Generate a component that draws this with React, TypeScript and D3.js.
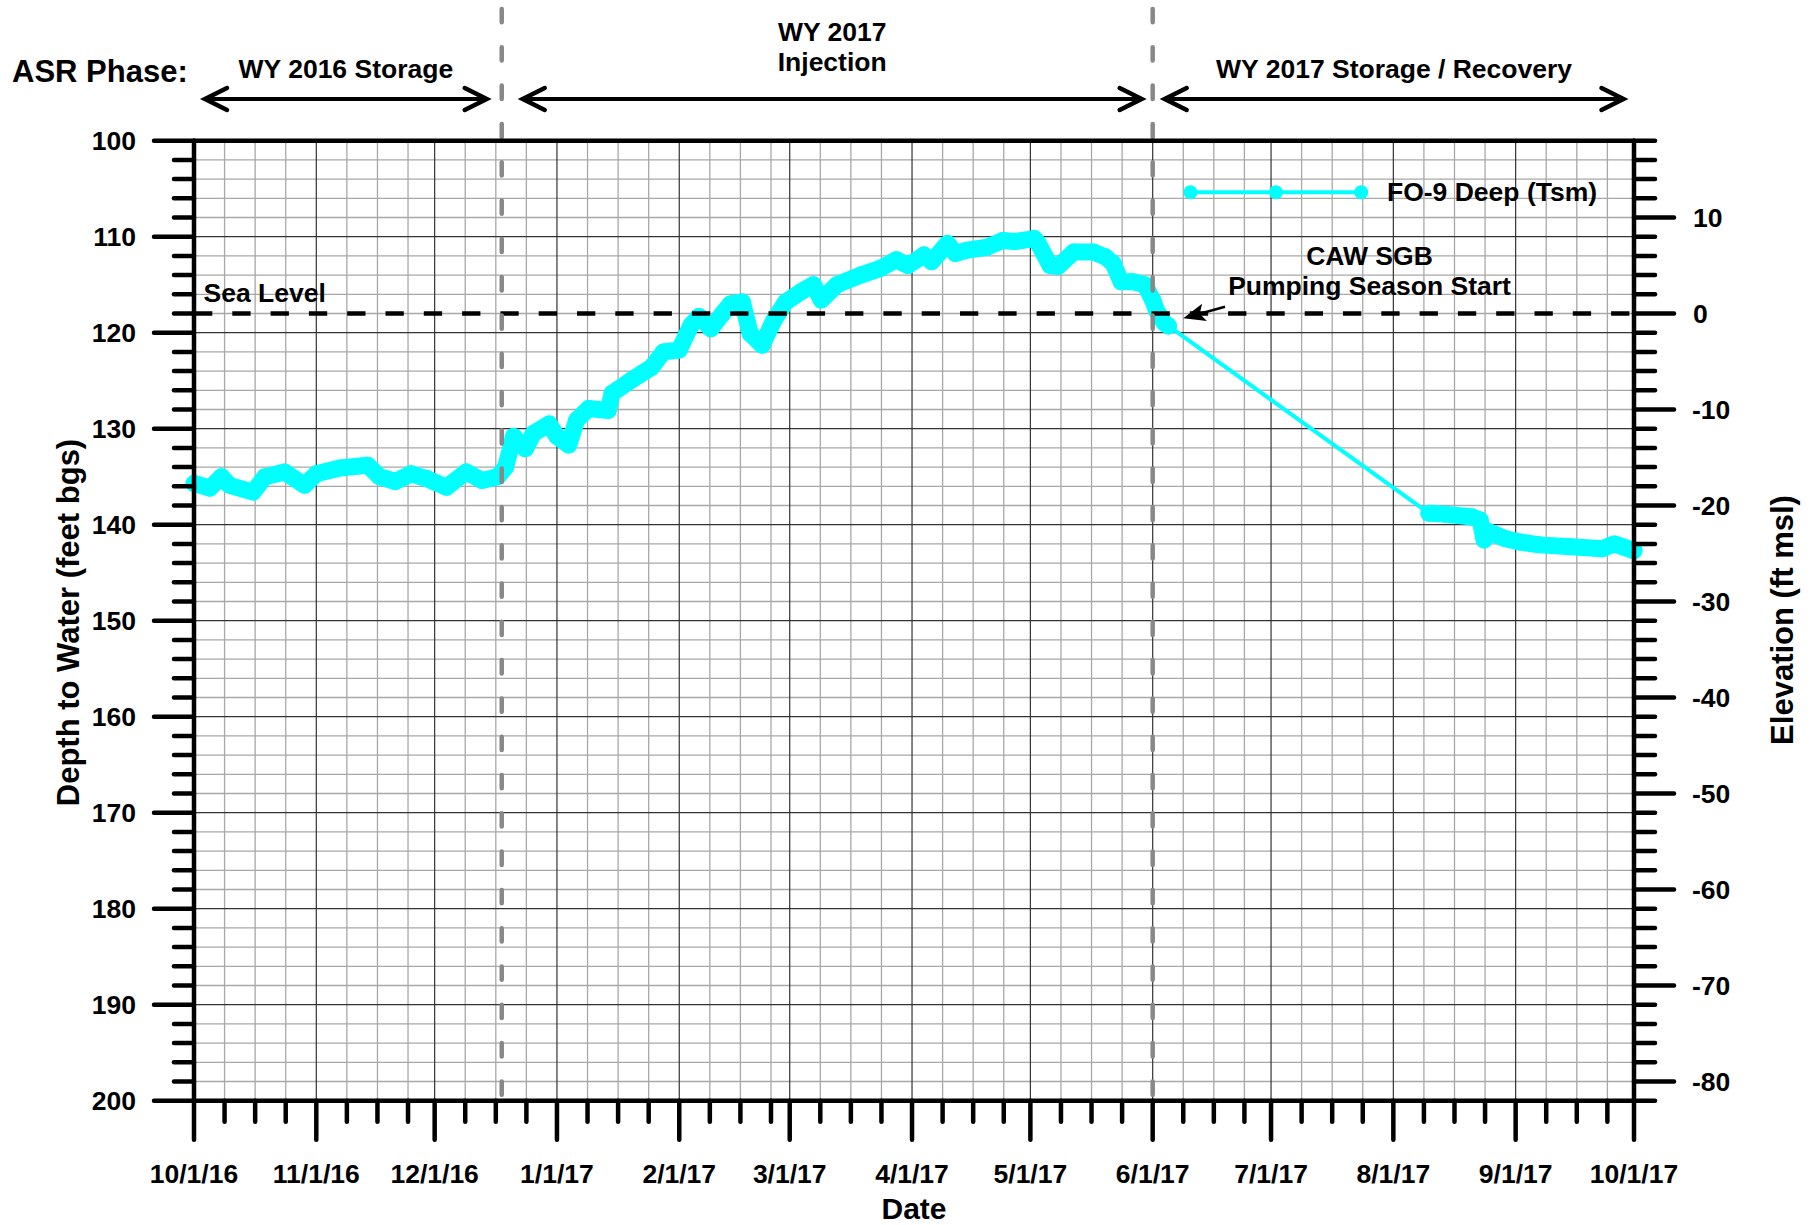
import React from "react";
import * as d3 from "d3";

// FO-9 Deep (Tsm) transducer record, depth to water in feet below ground surface
const obsDates: string[] = [
  "2016-10-01", "2016-10-05", "2016-10-08", "2016-10-10", "2016-10-16", "2016-10-19",
  "2016-10-24", "2016-10-29", "2016-11-01", "2016-11-07", "2016-11-14", "2016-11-17",
  "2016-11-21", "2016-11-25", "2016-11-29", "2016-12-04", "2016-12-09", "2016-12-13",
  "2016-12-17", "2016-12-19", "2016-12-21", "2016-12-24", "2016-12-26", "2016-12-30",
  "2017-01-01", "2017-01-04", "2017-01-06", "2017-01-09", "2017-01-14", "2017-01-15",
  "2017-01-20", "2017-01-25", "2017-01-28", "2017-02-01", "2017-02-04", "2017-02-06",
  "2017-02-09", "2017-02-12", "2017-02-14", "2017-02-17", "2017-02-19", "2017-02-22",
  "2017-02-25", "2017-02-28", "2017-03-04", "2017-03-07", "2017-03-09", "2017-03-13",
  "2017-03-19", "2017-03-24", "2017-03-28", "2017-03-31", "2017-04-04", "2017-04-06",
  "2017-04-10", "2017-04-12", "2017-04-15", "2017-04-20", "2017-04-24", "2017-04-27",
  "2017-05-02", "2017-05-03", "2017-05-06", "2017-05-08", "2017-05-12", "2017-05-17",
  "2017-05-20", "2017-05-22", "2017-05-24", "2017-05-27", "2017-05-30", "2017-06-01",
  "2017-06-02", "2017-06-04", "2017-06-05", "2017-08-10", "2017-08-14", "2017-08-21",
  "2017-08-23", "2017-08-24", "2017-08-25", "2017-08-29", "2017-09-02", "2017-09-07",
  "2017-09-15", "2017-09-23", "2017-09-26", "2017-10-01",
];
const depthFt: number[] = [
  135.7, 136.2, 135.0, 135.9, 136.6, 135.0,
  134.5, 135.9, 134.7, 134.1, 133.8, 135.0,
  135.5, 134.7, 135.2, 136.1, 134.5, 135.4,
  135.0, 134.0, 130.8, 132.1, 130.5, 129.5,
  130.8, 131.7, 129.1, 127.9, 128.1, 126.3,
  124.9, 123.6, 122.0, 121.8, 119.2, 118.3,
  119.6, 118.0, 117.0, 116.8, 120.1, 121.3,
  118.7, 116.8, 115.7, 115.0, 116.6, 115.0,
  114.0, 113.3, 112.4, 113.0, 111.9, 112.6,
  110.7, 111.75, 111.4, 111.1, 110.4, 110.5,
  110.2, 110.7, 113.0, 113.1, 111.6, 111.6,
  112.1, 112.8, 114.7, 114.7, 115.0, 116.6,
  117.7, 119.0, 119.3, 138.8, 138.9, 139.2,
  139.5, 141.6, 140.7, 141.4, 141.8, 142.1,
  142.3, 142.5, 142.0, 142.7,
];

const seriesName = "FO-9 Deep (Tsm)";
const axisStart = "2016-10-01";
const axisEnd = "2017-10-01";
const depthDomain = [100, 200];
const depthLabelTicks = d3.range(100, 201, 10);
const depthMinorTicks = d3.range(100, 201, 2);
const seaLevelDepth = 118; // 0 ft msl at this well
const elevLabelTicks = d3.range(10, -81, -10);
const elevMinorTicks = d3.range(18, -83, -2);
const phaseBreaks = ["2016-12-18", "2017-06-01"];
const phaseLabels: string[][] = [["WY 2016 Storage"], ["WY 2017", "Injection"], ["WY 2017 Storage / Recovery"]];
const noteLines = ["CAW SGB", "Pumping Season Start"];

// layout
const W = 1819;
const H = 1225;
const L = 194;
const R = 1634;
const T = 140.7;
const B = 1100.7;
const FONT = "'Liberation Sans', Arial, Helvetica, sans-serif";
const CYAN = "#00FFFF";

type Pt = { date: Date; depth: number };

function chevron(xTip: number, yTip: number, dir: number) {
  return `M${xTip - dir * 22},${yTip - 11} L${xTip},${yTip} L${xTip - dir * 22},${yTip + 11}`;
}

export default function App() {
  const parse = d3.utcParse("%Y-%m-%d");
  const d0 = parse(axisStart)!;
  const d1 = parse(axisEnd)!;
  const x = d3.scaleUtc().domain([d0, d1]).range([L, R]);
  const y = d3.scaleLinear().domain(depthDomain).range([T, B]);
  const yE = d3
    .scaleLinear()
    .domain([seaLevelDepth - depthDomain[0], seaLevelDepth - depthDomain[1]])
    .range([T, B]);

  const pts: Pt[] = obsDates.map((d, i) => ({ date: parse(d)!, depth: depthFt[i] }));
  const months = d3.utcMonth.range(d0, d3.utcDay.offset(d1, 1));
  const weekTicks = months
    .slice(0, -1)
    .flatMap((m) => [1, 2, 3].map((k) => new Date(+m + k * 7.75 * 864e5)));
  const fmt = d3.utcFormat("%-m/%-d/%y");

  // split the record into continuous runs (gaps longer than 20 days are bridged by a thin line only)
  const runs: Pt[][] = [];
  let cur: Pt[] = [pts[0]];
  for (let i = 1; i < pts.length; i++) {
    if ((+pts[i].date - +pts[i - 1].date) / 864e5 > 20) {
      runs.push(cur);
      cur = [pts[i]];
    } else cur.push(pts[i]);
  }
  runs.push(cur);

  const line = d3
    .line<Pt>()
    .x((p) => x(p.date))
    .y((p) => y(p.depth));

  const breakX = phaseBreaks.map((d) => x(parse(d)!));
  const arrowY = 99;
  const arrowSpans = [
    [L + 11, breakX[0] - 15],
    [breakX[0] + 21, breakX[1] - 11],
    [breakX[1] + 12, R - 10.5],
  ];

  // annotation arrow
  const aFrom = [1225, 306.7];
  const aTip = [1183.3, 318.3];
  const dx = aTip[0] - aFrom[0];
  const dy = aTip[1] - aFrom[1];
  const len = Math.hypot(dx, dy);
  const ux = dx / len;
  const uy = dy / len;
  const hb = [aTip[0] - ux * 22, aTip[1] - uy * 22];
  const head = `M${aTip[0]},${aTip[1]} L${hb[0] - uy * 9},${hb[1] + ux * 9} L${aTip[0] - ux * 17},${aTip[1] - uy * 17} L${hb[0] + uy * 9},${hb[1] - ux * 9} Z`;

  const legY = 192.3;
  const legX = [1190.5, 1275.9, 1361.2];

  return (
    <svg
      width={W}
      height={H}
      viewBox={`0 0 ${W} ${H}`}
      style={{ position: "absolute", left: 0, top: 0, display: "block", background: "#fff" }}
      fontFamily={FONT}
      fontWeight="bold"
    >
      <rect x={0} y={0} width={W} height={H} fill="#fff" />

      {/* grid */}
      <g>
        {depthMinorTicks
          .filter((v) => v % 10 !== 0)
          .map((v) => (
            <line key={`hm${v}`} x1={L} x2={R} y1={y(v)} y2={y(v)} stroke="#a8a8a8" strokeWidth={1.3} />
          ))}
        {weekTicks.map((d, i) => (
          <line key={`vm${i}`} x1={x(d)} x2={x(d)} y1={T} y2={B} stroke="#a8a8a8" strokeWidth={1.3} />
        ))}
        {depthLabelTicks.map((v) => (
          <line key={`hM${v}`} x1={L} x2={R} y1={y(v)} y2={y(v)} stroke="#333" strokeWidth={1.2} />
        ))}
        {months.map((d, i) => (
          <line key={`vM${i}`} x1={x(d)} x2={x(d)} y1={T} y2={B} stroke="#333" strokeWidth={1.2} />
        ))}
      </g>

      {/* series */}
      <g>
        <path d={line(pts) ?? ""} fill="none" stroke={CYAN} strokeWidth={4} strokeLinejoin="round" />
        {runs.map((r, i) => (
          <path
            key={`run${i}`}
            d={line(r) ?? ""}
            fill="none"
            stroke={CYAN}
            strokeWidth={17}
            strokeLinejoin="round"
            strokeLinecap="round"
          />
        ))}
        {pts.map((p, i) => (
          <circle key={`pt${i}`} cx={x(p.date)} cy={y(p.depth)} r={8.5} fill={CYAN} />
        ))}
      </g>

      {/* sea level */}
      <line
        x1={L}
        x2={R}
        y1={y(seaLevelDepth)}
        y2={y(seaLevelDepth)}
        stroke="#000"
        strokeWidth={4.5}
        strokeDasharray="18.3 20"
      />
      <text x={203.6} y={301.7} fontSize={26.5}>
        Sea Level
      </text>

      {/* phase boundaries */}
      {breakX.map((bx, i) => (
        <line
          key={`pb${i}`}
          x1={bx}
          x2={bx}
          y1={9}
          y2={B - 2}
          stroke="#888"
          strokeWidth={4.5}
          strokeLinecap="round"
          strokeDasharray="13.3 25"
        />
      ))}

      {/* axes frame */}
      <g stroke="#000" strokeWidth={4.5} strokeLinecap="round">
        <line x1={L} x2={R} y1={T} y2={T} />
        <line x1={L} x2={R} y1={B} y2={B} />
        <line x1={L} x2={L} y1={T} y2={B} />
        <line x1={R} x2={R} y1={T} y2={B} />
        {depthMinorTicks.map((v) => (
          <line key={`lt${v}`} x1={v % 10 === 0 ? L - 40 : L - 20} x2={L} y1={y(v)} y2={y(v)} />
        ))}
        {elevMinorTicks.map((v) => (
          <line key={`rt${v}`} x1={R} x2={v % 10 === 0 ? R + 40 : R + 21} y1={yE(v)} y2={yE(v)} />
        ))}
        {months.map((d, i) => (
          <line key={`bt${i}`} x1={x(d)} x2={x(d)} y1={B} y2={B + 39} />
        ))}
        {weekTicks.map((d, i) => (
          <line key={`bw${i}`} x1={x(d)} x2={x(d)} y1={B} y2={B + 21} />
        ))}
      </g>

      {/* tick labels */}
      <g fontSize={26.5}>
        {depthLabelTicks.map((v) => (
          <text key={`ll${v}`} x={136} y={y(v) + 9.5} textAnchor="end">
            {v}
          </text>
        ))}
        {elevLabelTicks.map((v) => (
          <text key={`rl${v}`} x={v < 0 ? 1692 : 1693} y={yE(v) + 9.5} textAnchor="start">
            {v}
          </text>
        ))}
        {months.map((d, i) => (
          <text key={`xl${i}`} x={x(d)} y={1183} textAnchor="middle">
            {fmt(d)}
          </text>
        ))}
      </g>

      {/* axis titles */}
      <text x={914} y={1219} fontSize={30} textAnchor="middle">
        Date
      </text>
      <text transform={`translate(79,622.5) rotate(-90)`} fontSize={31} textAnchor="middle">
        Depth to Water (feet bgs)
      </text>
      <text transform={`translate(1793,620) rotate(-90)`} fontSize={31} textAnchor="middle">
        Elevation (ft msl)
      </text>

      {/* phases */}
      <text x={12} y={82} fontSize={31}>
        ASR Phase:
      </text>
      {arrowSpans.map(([a, b], i) => {
        const cx = (a + b) / 2;
        const lines = phaseLabels[i];
        return (
          <g key={`ph${i}`}>
            <line x1={a} x2={b} y1={arrowY} y2={arrowY} stroke="#000" strokeWidth={4} />
            <path
              d={chevron(a, arrowY, -1)}
              fill="none"
              stroke="#000"
              strokeWidth={4.5}
              strokeLinecap="round"
              strokeLinejoin="miter"
            />
            <path
              d={chevron(b, arrowY, 1)}
              fill="none"
              stroke="#000"
              strokeWidth={4.5}
              strokeLinecap="round"
              strokeLinejoin="miter"
            />
            {lines.map((t, j) => (
              <text
                key={j}
                x={cx}
                y={lines.length === 1 ? 78 : 41 + j * 29.5}
                fontSize={26.5}
                textAnchor="middle"
              >
                {t}
              </text>
            ))}
          </g>
        );
      })}

      {/* legend */}
      <line x1={legX[0]} x2={legX[2]} y1={legY} y2={legY} stroke={CYAN} strokeWidth={4} />
      {legX.map((lx, i) => (
        <circle key={`lg${i}`} cx={lx} cy={legY} r={7} fill={CYAN} />
      ))}
      <text x={1387} y={200.5} fontSize={26.5}>
        {seriesName}
      </text>

      {/* annotation */}
      {noteLines.map((t, i) => (
        <text key={`nt${i}`} x={1369.5} y={265 + i * 30} fontSize={26.5} textAnchor="middle">
          {t}
        </text>
      ))}
      <line x1={aFrom[0]} y1={aFrom[1]} x2={hb[0] + ux * 4} y2={hb[1] + uy * 4} stroke="#000" strokeWidth={2.5} />
      <path d={head} fill="#000" />
    </svg>
  );
}
